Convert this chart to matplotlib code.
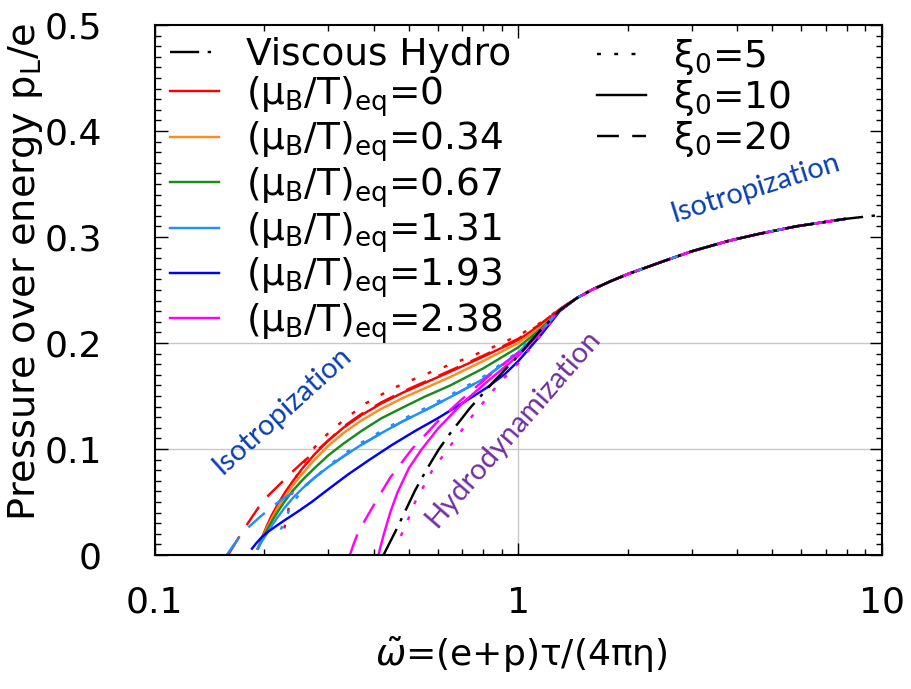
import numpy as np
import matplotlib
matplotlib.use("Agg")
import matplotlib.pyplot as plt
from matplotlib.lines import Line2D
from matplotlib.ticker import MultipleLocator, LogLocator, NullFormatter

plt.rcParams['font.family'] = 'DejaVu Sans'
plt.rcParams['mathtext.fontset'] = 'dejavusans'

# common late-time attractor shared by all curves
tail_x = [1.45, 1.6, 1.8, 2.0, 2.5, 3.0, 3.8, 4.6, 5.8, 7.9]
tail_y = [0.2425, 0.2505, 0.2585, 0.265, 0.277, 0.2865, 0.2965, 0.303, 0.310, 0.317]

# viscous hydro
hydro_x = [0.4256, 0.4633, 0.483, 0.52, 0.56, 0.605, 0.65, 0.7375, 0.8735, 1.0, 1.15, 1.3]
hydro_y = [0.0, 0.025, 0.038, 0.061, 0.081, 0.100, 0.115, 0.139, 0.167, 0.188, 0.212, 0.231]
hydro_end_x = [10.0]
hydro_end_y = [0.321]

# xi0 = 10 (solid), one per (mu_B/T)_eq
red_x = [0.192, 0.197, 0.203, 0.210, 0.218, 0.228, 0.24, 0.255, 0.275, 0.30, 0.33, 0.37,
         0.42, 0.48, 0.55, 0.65, 0.80, 1.0, 1.15, 1.3]
red_y = [0.006, 0.016, 0.027, 0.038, 0.048, 0.059, 0.070, 0.082, 0.095, 0.108, 0.120, 0.132,
         0.143, 0.153, 0.162, 0.173, 0.187, 0.203, 0.217, 0.232]
orange_x = [0.192, 0.197, 0.203, 0.210, 0.218, 0.228, 0.24, 0.255, 0.275, 0.30, 0.33, 0.37,
            0.42, 0.48, 0.55, 0.65, 0.80, 1.0, 1.15, 1.3]
orange_y = [0.006, 0.015, 0.025, 0.035, 0.045, 0.055, 0.066, 0.077, 0.090, 0.103, 0.115, 0.127,
            0.138, 0.148, 0.157, 0.168, 0.183, 0.200, 0.215, 0.231]
green_x = [0.192, 0.197, 0.203, 0.210, 0.218, 0.228, 0.24, 0.255, 0.275, 0.30, 0.33, 0.37,
           0.42, 0.48, 0.55, 0.65, 0.80, 1.0, 1.15, 1.3]
green_y = [0.006, 0.014, 0.023, 0.032, 0.041, 0.051, 0.061, 0.071, 0.082, 0.094, 0.105, 0.117,
           0.129, 0.139, 0.149, 0.160, 0.176, 0.196, 0.213, 0.231]
lblue_x = [0.192, 0.197, 0.203, 0.210, 0.218, 0.228, 0.24, 0.255, 0.275, 0.30, 0.33, 0.37,
           0.42, 0.48, 0.55, 0.65, 0.80, 1.0, 1.15, 1.3]
lblue_y = [0.006, 0.013, 0.020, 0.028, 0.036, 0.045, 0.054, 0.063, 0.073, 0.083, 0.093, 0.104,
           0.115, 0.126, 0.136, 0.149, 0.166, 0.191, 0.211, 0.231]
blue_x = [0.185, 0.19, 0.197, 0.205, 0.215, 0.228, 0.245, 0.27, 0.30, 0.34, 0.39, 0.45,
          0.52, 0.60, 0.70, 0.82, 0.92, 1.0, 1.15, 1.3]
blue_y = [0.006, 0.011, 0.017, 0.022, 0.027, 0.033, 0.040, 0.050, 0.062, 0.076, 0.090, 0.104,
          0.117, 0.129, 0.143, 0.158, 0.171, 0.183, 0.207, 0.230]
mag_x = [0.412, 0.426, 0.444, 0.465, 0.50, 0.54, 0.60, 0.70, 0.85, 1.0, 1.15, 1.3]
mag_y = [0.0, 0.019, 0.040, 0.059, 0.082, 0.099, 0.119, 0.143, 0.168, 0.188, 0.210, 0.231]

# xi0 = 20 (dashed)
red20_x = [0.159, 0.1733, 0.186, 0.193, 0.205, 0.221, 0.238, 0.256, 0.28, 0.30, 0.33, 0.37,
           0.42, 0.48, 0.55, 0.65, 0.80, 1.0, 1.15, 1.3]
red20_y = [0.0, 0.021, 0.037, 0.045, 0.056, 0.067, 0.078, 0.088, 0.099, 0.108, 0.121, 0.133,
           0.144, 0.154, 0.163, 0.174, 0.188, 0.204, 0.218, 0.232]
lblue20_x = [0.1576, 0.17, 0.1807, 0.1947, 0.211, 0.225, 0.24, 0.26, 0.28, 0.30, 0.33, 0.37,
             0.42, 0.48, 0.55, 0.65, 0.80, 1.0, 1.15, 1.3]
lblue20_y = [0.0, 0.016, 0.026, 0.036, 0.046, 0.053, 0.059, 0.066, 0.075, 0.083, 0.093, 0.104,
             0.115, 0.126, 0.136, 0.149, 0.166, 0.191, 0.211, 0.231]
mag20_x = [0.344, 0.352, 0.363, 0.40, 0.444, 0.51, 0.60, 0.70, 0.85, 1.0, 1.15, 1.3]
mag20_y = [0.0, 0.010, 0.022, 0.047, 0.073, 0.100, 0.126, 0.147, 0.172, 0.191, 0.211, 0.231]

# xi0 = 5 (dotted)
red5_x = [0.227, 0.232, 0.238, 0.2456, 0.26, 0.2757, 0.30, 0.33, 0.38, 0.45, 0.55, 0.7,
          0.85, 1.0, 1.15, 1.3]
red5_y = [0.025, 0.040, 0.058, 0.075, 0.090, 0.102, 0.115, 0.127, 0.143, 0.157, 0.170, 0.184,
          0.196, 0.207, 0.219, 0.232]
lblue5_x = [0.222, 0.228, 0.236, 0.25, 0.27, 0.30, 0.33, 0.37, 0.42, 0.48, 0.55, 0.65,
            0.80, 1.0, 1.15, 1.3]
lblue5_y = [0.024, 0.033, 0.045, 0.058, 0.071, 0.084, 0.095, 0.106, 0.117, 0.128, 0.138, 0.151,
            0.168, 0.192, 0.212, 0.231]
mag5_x = [0.475, 0.49, 0.52, 0.58, 0.64, 0.75, 0.88, 1.0, 1.15, 1.3]
mag5_y = [0.018, 0.028, 0.050, 0.080, 0.100, 0.132, 0.161, 0.181, 0.207, 0.231]

mu_labels = ["0", "0.34", "0.67", "1.31", "1.93", "2.38"]
mu_colors = ["#ff0000", "#ff8c1a", "#1a8a1a", "#1e90ff", "#0000ff", "#ff00ff"]
xi_labels = ["5", "10", "20"]

SOLID = "-"
DOTTED = (0, (1.6, 5.5))
DASHED = (0, (9, 5.5))
DASHDOT = (0, (12, 3.5, 1.4, 3.5))
LW = 1.75

fig = plt.figure(figsize=(9.11, 6.89), dpi=100)
ax = fig.add_axes([0.170, 0.1945, 0.798, 0.7692])

# grid lines
ax.axhline(0.1, color="#c8c8c8", lw=1.0, zorder=0)
ax.axhline(0.2, color="#c8c8c8", lw=1.0, zorder=0)
ax.vlines(1.0, 0.0, 0.2, color="#c8c8c8", lw=1.0, zorder=0)


def curve(xs, ys, color, ls):
    ax.plot(np.concatenate([xs, tail_x]), np.concatenate([ys, tail_y]),
            color=color, ls=ls, lw=LW)


solid_sets = [(red_x, red_y), (orange_x, orange_y), (green_x, green_y),
              (lblue_x, lblue_y), (blue_x, blue_y), (mag_x, mag_y)]
for (xs, ys), c in zip(solid_sets, mu_colors):
    curve(xs, ys, c, SOLID)

curve(red20_x, red20_y, mu_colors[0], DASHED)
curve(red5_x, red5_y, mu_colors[0], DOTTED)
curve(lblue20_x, lblue20_y, mu_colors[3], DASHED)
curve(lblue5_x, lblue5_y, mu_colors[3], DOTTED)
curve(mag20_x, mag20_y, mu_colors[5], DASHED)
curve(mag5_x, mag5_y, mu_colors[5], DOTTED)

ax.plot(np.concatenate([hydro_x, tail_x, hydro_end_x]),
        np.concatenate([hydro_y, tail_y, hydro_end_y]),
        color="black", ls=DASHDOT, lw=LW, zorder=5)

ax.set_xscale("log")
ax.set_xlim(0.1, 10)
ax.set_ylim(0, 0.5)
ax.set_xticks([0.1, 1, 10])
ax.set_xticklabels(["0.1", "1", "10"])
ax.xaxis.set_minor_locator(LogLocator(base=10, subs=np.arange(2, 10)))
ax.xaxis.set_minor_formatter(NullFormatter())
ax.set_yticks([0, 0.1, 0.2, 0.3, 0.4, 0.5])
ax.set_yticklabels(["0", "0.1", "0.2", "0.3", "0.4", "0.5"])
ax.yaxis.set_minor_locator(MultipleLocator(0.01))

ax.tick_params(which="both", direction="in", top=True, right=True, width=1.0)
ax.tick_params(which="major", length=9, labelsize=26)
ax.tick_params(which="minor", length=4.5)
ax.tick_params(axis="x", which="major", pad=22)
ax.tick_params(axis="y", which="major", pad=38)
for s in ax.spines.values():
    s.set_linewidth(1.5)

# legends
h1 = [Line2D([], [], color="black", ls=DASHDOT, lw=LW, label="Viscous Hydro")]
for m, c in zip(mu_labels, mu_colors):
    h1.append(Line2D([], [], color=c, lw=LW,
                     label="(μ$_\\mathregular{B}$/T)$_\\mathregular{eq}$=" + m))
h2 = [Line2D([], [], color="black", lw=LW, ls=s, label="ξ$_\\mathregular{0}$=" + xi)
      for s, xi in zip([DOTTED, SOLID, DASHED], xi_labels)]

leg_kw = dict(frameon=False, fontsize=27, handlelength=1.3, handletextpad=0.72,
              labelspacing=0.02, borderaxespad=0, borderpad=0, loc="upper left")
leg1 = ax.legend(handles=h1, bbox_to_anchor=(0.021, 0.977), **leg_kw)
ax.add_artist(leg1)
ax.legend(handles=h2, bbox_to_anchor=(0.608, 0.977), **leg_kw)

# region annotations
ax.text(4.5, 0.3457, "Isotropization", rotation=17.5, color="#0b3fb0", fontsize=21,
        family="Lato", ha="center", va="center", rotation_mode="anchor")
ax.text(0.224, 0.136, "Isotropization", rotation=42, color="#0b3fb0", fontsize=21,
        family="Lato", ha="center", va="center", rotation_mode="anchor")
ax.text(0.968, 0.119, "Hydrodynamization", rotation=49, color="#7030a0", fontsize=21,
        family="Lato", ha="center", va="center", rotation_mode="anchor")

fig.text(26 / 911, 1 - 272 / 689, "Pressure over energy p$_\\mathregular{L}$/e",
         rotation=90, ha="center", va="center", fontsize=27.5)
fig.text(521 / 911, 1 - 655 / 689, "$\\tilde{\\omega}$=(e+p)τ/(4πη)",
         ha="center", va="center", fontsize=26)

fig.savefig("out.png", dpi=100)
